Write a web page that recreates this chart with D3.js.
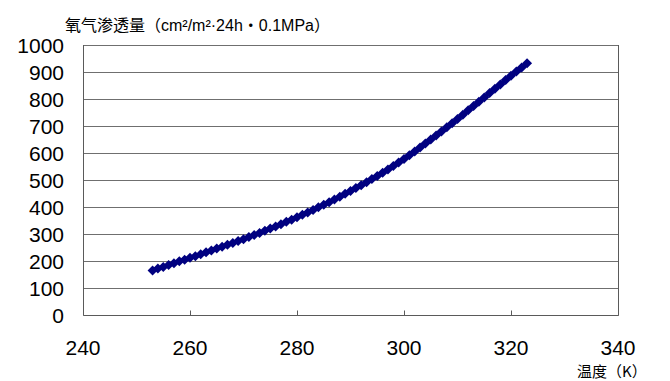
<!DOCTYPE html>
<html>
<head>
<meta charset="utf-8">
<script src="https://cdn.jsdelivr.net/npm/d3@7"></script>
<style>
html,body{margin:0;padding:0;background:#fff;}
svg{display:block;}
</style>
</head>
<body>
<svg id="chart" width="670" height="381"></svg>
<script>
const temperatures = [253,254,255,256,257,258,259,260,261,262,263,264,265,266,267,268,269,270,271,272,273,274,275,276,277,278,279,280,281,282,283,284,285,286,287,288,289,290,291,292,293,294,295,296,297,298,299,300,301,302,303,304,305,306,307,308,309,310,311,312,313,314,315,316,317,318,319,320,321,322,323];
const permeability = [165,172,178,185,192,199,205,212,218,225,232,239,246,253,260,267,274,281,289,296,304,312,320,328,336,345,353,362,371,380,389,399,408,418,428,438,449,459,470,481,492,504,515,527,539,552,565,578,592,606,620,635,650,665,680,695,710,726,742,758,774,790,806,822,838,854,870,886,902,917,932];
const xTicks = [240,260,280,300,320,340];
const yTicks = [0,100,200,300,400,500,600,700,800,900,1000];
const yTitleParts = [["氧气渗透量（","cjk"],["cm²/m²·24h","lat"],["・","cjk"],["0.1MPa","lat"],["）","cjk"]];
const xTitle = "温度（K）";

const data = temperatures.map((t,i)=>({t, v: permeability[i]}));
const svg = d3.select("#chart");
const L = 83, R = 618, T = 45, B = 315;
const x = d3.scaleLinear().domain([240,340]).range([L,R]);
const y = d3.scaleLinear().domain([0,1000]).range([B,T]);
const numFont = "'Liberation Sans', Arial, sans-serif";
const cjkFont = "'Noto Sans CJK SC', 'Liberation Sans', sans-serif";

// gridlines
svg.append("g").selectAll("line").data(yTicks.filter(d=>d>0)).join("line")
  .attr("x1", L).attr("x2", R)
  .attr("y1", d=>Math.round(y(d))+0.5).attr("y2", d=>Math.round(y(d))+0.5)
  .attr("stroke", "#6f6f6f").attr("stroke-width", 1);

// frame: left, bottom, right
svg.append("path")
  .attr("d", `M${L+0.5},${T} V${B+0.5} H${R+0.5} V${T}`)
  .attr("fill","none").attr("stroke","#5a5a5a").attr("stroke-width",1);

// x axis ticks (inward)
const xAxis = d3.axisBottom(x).tickValues(xTicks).tickSizeInner(-5).tickSizeOuter(0).tickPadding(0);
const gx = svg.append("g").attr("transform", `translate(0,${B+0.5})`).call(xAxis);
gx.select(".domain").remove();
gx.selectAll(".tick line").attr("stroke","#5a5a5a");
gx.selectAll(".tick text").remove();
svg.append("g").selectAll("text").data(xTicks).join("text")
  .attr("x", d=>x(d)).attr("y", 355)
  .attr("text-anchor","middle")
  .attr("font-family", numFont).attr("font-size", 21).attr("fill","#000")
  .text(d=>d);

// y labels
svg.append("g").selectAll("text").data(yTicks).join("text")
  .attr("x", 64).attr("y", d=>y(d)).attr("dy","0.36em")
  .attr("text-anchor","end")
  .attr("font-family", numFont).attr("font-size", 21).attr("fill","#000")
  .text(d=>d);

// line
const line = d3.line().x(d=>x(d.t)).y(d=>y(d.v));
svg.append("path").datum(data).attr("d", line)
  .attr("fill","none").attr("stroke","#000080").attr("stroke-width",4);

// diamond markers
const diamond = d3.symbol().type(d3.symbolSquare).size(50);
svg.append("g").selectAll("path").data(data).join("path")
  .attr("d", diamond())
  .attr("transform", d=>`translate(${x(d.t)},${y(d.v)}) rotate(45)`)
  .attr("fill","#000080");

// titles
const yt = svg.append("text").attr("x", 65).attr("y", 31)
  .attr("font-size", 16).attr("fill","#000");
yt.selectAll("tspan").data(yTitleParts).join("tspan")
  .attr("font-family", d=>d[1]==="cjk"?cjkFont:numFont)
  .text(d=>d[0]);
svg.append("text").attr("x", 577).attr("y", 377)
  .attr("font-family", cjkFont).attr("font-size", 15).attr("fill","#000")
  .text(xTitle);
</script>
</body>
</html>
